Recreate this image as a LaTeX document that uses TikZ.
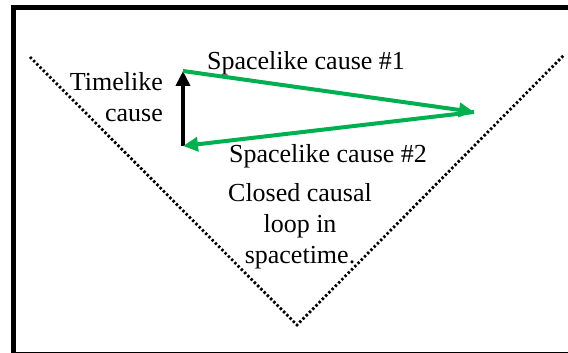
\documentclass[tikz,border=0pt]{standalone}
\usepackage{fontspec}
\setmainfont{Liberation Serif}
\newfontfamily\labelfont{Liberation Serif}
\usetikzlibrary{arrows.meta}
\definecolor{loopgreen}{RGB}{0,176,80}
\newcommand{\labelSize}[0]{\labelfont\fontsize{26}{31}\selectfont}

\begin{document}
\begin{tikzpicture}[x=1pt, y=-1pt]
  \tikzset{every node/.style={font=\labelSize, align=center, inner sep=0pt},
    cone/.style={line width=2.8pt, dash pattern=on 2.4pt off 2.2pt},
    causearrow/.style={line width=4pt, -{Triangle[length=15pt, width=14pt]}}}
  \useasboundingbox (0,0) rectangle (568,353);
  \begin{scope}
    \clip (0,0) rectangle (568,353);
    \draw[line width=5pt] (13,7.5) rectangle (575,354);
  \end{scope}
  \coordinate (coneL) at (30,57);
  \coordinate (apex) at (297,325);
  \coordinate (coneR) at (564,55);
  \draw[cone] (coneL) -- (apex) -- (coneR);
  \coordinate (tbot) at (183,146);
  \coordinate (ttop) at (183,71);
  \coordinate (far) at (474,112);
  \draw[causearrow] (tbot) -- (ttop);
  \draw[causearrow, loopgreen] (ttop) -- (far);
  \draw[causearrow, loopgreen] (far) -- (tbot);
  \node[anchor=east, align=right] (timelike) at (163,97) {Timelike\\cause};
  \node (space1) at (306,63) {Spacelike cause \#1};
  \node (space2) at (328,156) {Spacelike cause \#2};
  \node (loop) at (300,226) {Closed causal\\loop in\\spacetime.};
\end{tikzpicture}
\end{document}
